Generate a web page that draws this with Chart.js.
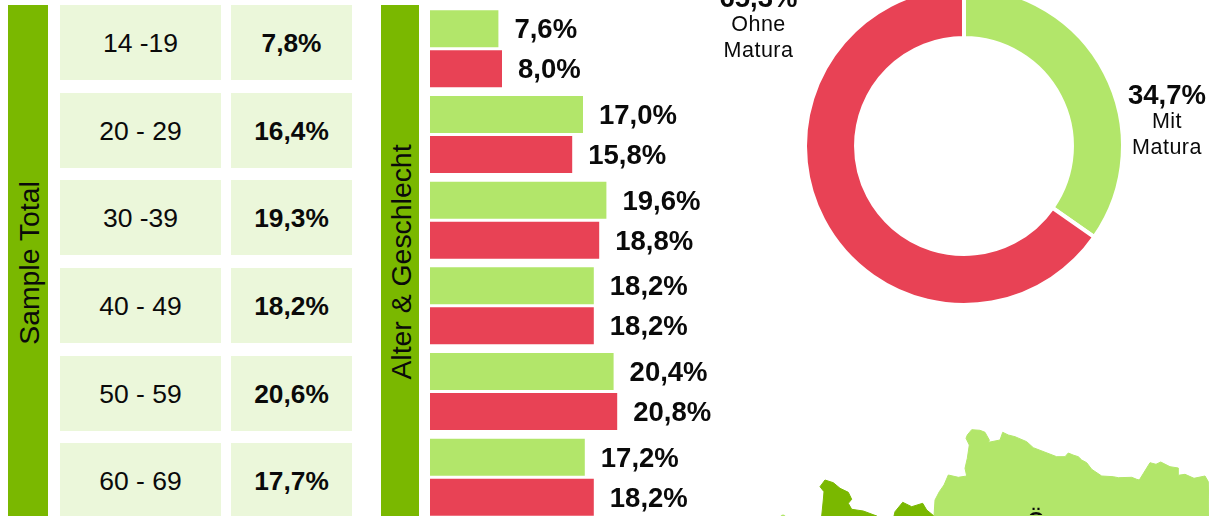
<!DOCTYPE html>
<html lang="de">
<head>
<meta charset="utf-8">
<title>Sample</title>
<script src="https://cdn.jsdelivr.net/npm/chart.js@4"></script>
<style>
    html, body { margin: 0; padding: 0; width: 1209px; height: 516px; overflow: hidden; background: #fff; }
    body { position: relative; font-family: "Liberation Sans", Arial, sans-serif; color: #0a0a0a; }
    .side { position: absolute; top: 5px; height: 515px; background: #7ab800; font-size: 28.4px; }
    .side span { position: absolute; left: 50%; top: 50%; white-space: nowrap; transform: translate(-50%, -50%) rotate(-90deg); }
    .cell { position: absolute; height: 75px; background: #ebf7da; display: flex; align-items: center; justify-content: center; font-size: 26.5px; padding-top: 2px; box-sizing: border-box; }
    .cell.val { font-weight: bold; font-size: 26.3px; }
    canvas { position: absolute; }
    #map { position: absolute; left: 0; top: 0; }
    #oe { position: absolute; left: 1016px; width: 40px; top: 505px; height: 10px; overflow: hidden; text-align: center; font-size: 22px; line-height: 30px; font-weight: bold; }
</style>
</head>
<body>
<div class="side" style="left:8px;width:40px"><span style="margin-left:1px">Sample Total</span></div>
<div class="side" style="left:381px;width:38px"><span style="margin-left:1px;margin-top:-1px">Alter &amp; Geschlecht</span></div>
<div id="table"></div>
<canvas id="bars" width="288" height="514" style="left:430px;top:6px"></canvas>
<canvas id="donut" width="528" height="412" style="left:700px;top:-60px"></canvas>
<svg id="map" width="1209" height="516" stroke-width="1" stroke-linejoin="round">
    <polygon fill="#7ab800" stroke="#7ab800" points="820,486.7 825,480 833.3,482.7 840,488.3 848.3,492.3 851.7,499.3 848.3,503.3 851.7,509.3 863.3,511 876.7,516 821.7,516 823.3,500 824,491.7"/>
    <polygon fill="#7ab800" stroke="#7ab800" points="894,516 895,511.7 902.7,502.3 911.7,506.7 922.7,503.3 926.7,510 934,516"/>
    <circle fill="#b2e66a" cx="783" cy="517" r="2.5"/>
    <polygon fill="#b2e66a" stroke="#b2e66a" points="934,516 935,500 939.3,491.7 944,485 948.3,475 958.3,477.3 966.7,476 965,468.3 967.3,458.3 969.3,445 966,438.3 967.3,435 971.7,429.7 980,430.3 985,432.3 989.3,440 988.7,442.3 995,441 1000,440 1002.7,432.3 1008.3,435 1015,436.7 1026.7,441.7 1033.3,447.7 1056.7,456.7 1065,456.7 1068.3,453 1073,455 1078.3,456.7 1081.7,460 1086.7,462.7 1091.7,469.3 1101.7,476 1113.3,476.7 1118.3,477.7 1131.7,477.3 1136.7,479.3 1139.3,480 1150,462.7 1156,464.3 1160.7,462 1170,466.7 1178.3,468 1178.3,475.3 1185,474.3 1194,478.3 1205,476 1208.3,481.7 1209,516"/>
</svg>
<div id="oe">Ö</div>
<script>
const ageGroups = ['14 -19', '20 - 29', '30 -39', '40 - 49', '50 - 59', '60 - 69'];
const sampleTotal = [7.8, 16.4, 19.3, 18.2, 20.6, 17.7];
const greenBars = [7.6, 17.0, 19.6, 18.2, 20.4, 17.2];
const redBars = [8.0, 15.8, 18.8, 18.2, 20.8, 18.2];
const maturaLabels = ['Mit|Matura', 'Ohne|Matura'];
const maturaValues = [34.7, 65.3];

const LIME = '#b2e66a';
const RED = '#e84255';
const FONT = '"Liberation Sans", Arial, sans-serif';
const INK = '#0a0a0a';

// 34.7 -> "34,7%"
function pct(v) {
    return v.toFixed(1).replace('.', ',') + '%';
}

// Left table
function buildTable() {
    const table = document.getElementById('table');
    ageGroups.forEach((group, i) => {
        const top = Math.round(5 + i * 87.65);
        table.insertAdjacentHTML('beforeend',
            `<div class="cell" style="left:60px;width:161px;top:${top}px">${group}</div>` +
            `<div class="cell val" style="left:231px;width:121px;top:${top}px">${pct(sampleTotal[i])}</div>`);
    });
}

// Value labels at the end of each bar
const barLabels = {
    id: 'barLabels',
    afterDatasetsDraw(chart) {
        const ctx = chart.ctx;
        ctx.save();
        ctx.font = 'bold 27.5px ' + FONT;
        ctx.fillStyle = INK;
        ctx.textBaseline = 'middle';
        chart.data.datasets.forEach((ds, d) => {
            chart.getDatasetMeta(d).data.forEach((bar, i) => {
                ctx.fillText(pct(ds.data[i]), bar.x + 16, bar.y + 2);
            });
        });
        ctx.restore();
    }
};

// Labels beside the ring, offsets from its centre
const ringOffsets = [{x: 203, y: -50}, {x: -205.5, y: -147}];
const ringLabels = {
    id: 'ringLabels',
    afterDatasetsDraw(chart) {
        const ctx = chart.ctx;
        const arc = chart.getDatasetMeta(0).data[0];
        ctx.save();
        ctx.fillStyle = INK;
        ctx.textAlign = 'center';
        ctx.textBaseline = 'middle';
        maturaLabels.forEach((label, i) => {
            const x = arc.x + ringOffsets[i].x;
            const y = arc.y + ringOffsets[i].y;
            ctx.font = 'bold 27.5px ' + FONT;
            ctx.fillText(pct(maturaValues[i]), x, y);
            ctx.font = '21.5px ' + FONT;
            ctx.letterSpacing = '0.5px';
            label.split('|').forEach((line, n) => {
                ctx.fillText(line, x, y + 26 + n * 26);
            });
            ctx.letterSpacing = '0px';
        });
        ctx.restore();
    }
};

function createBars() {
    new Chart(document.getElementById('bars').getContext('2d'), {
        type: 'bar',
        data: {
            labels: ageGroups,
            datasets: [
                {data: greenBars, backgroundColor: LIME},
                {data: redBars, backgroundColor: RED}
            ]
        },
        options: {
            indexAxis: 'y',
            responsive: false,
            animation: false,
            devicePixelRatio: 1,
            categoryPercentage: 0.934,
            barPercentage: 0.925,
            plugins: {legend: {display: false}, tooltip: {enabled: false}},
            scales: {
                x: {display: false, min: 0, max: 32},
                y: {display: false}
            }
        },
        plugins: [barLabels]
    });
}

function createDonut() {
    new Chart(document.getElementById('donut').getContext('2d'), {
        type: 'doughnut',
        data: {
            labels: maturaLabels,
            datasets: [{
                data: maturaValues,
                backgroundColor: [LIME, RED],
                borderColor: '#fff',
                borderWidth: 4
            }]
        },
        options: {
            responsive: false,
            animation: false,
            devicePixelRatio: 1,
            radius: 159,
            cutout: '67.9%',
            plugins: {legend: {display: false}, tooltip: {enabled: false}}
        },
        plugins: [ringLabels]
    });
}

buildTable();
createBars();
createDonut();
</script>
</body>
</html>
